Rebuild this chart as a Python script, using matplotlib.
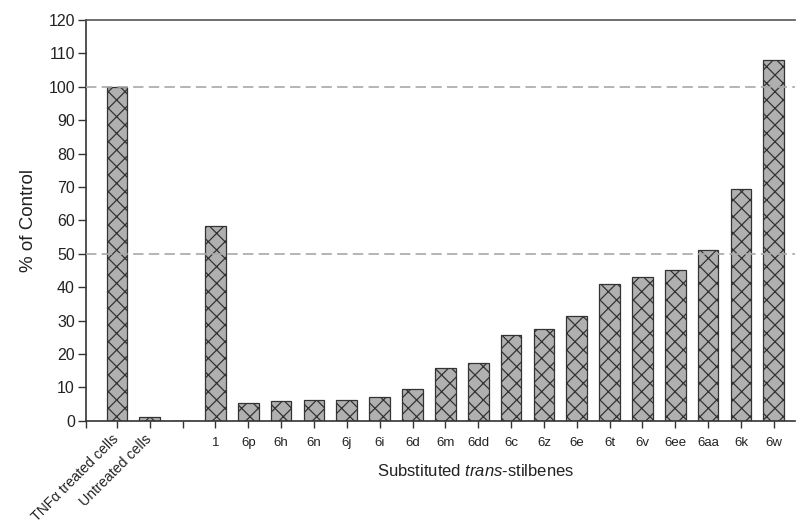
import numpy as np
import matplotlib
matplotlib.use("Agg")
import matplotlib.pyplot as plt

plt.rcParams['font.family'] = ['Liberation Sans', 'DejaVu Sans']
plt.rcParams['mathtext.fontset'] = 'custom'
plt.rcParams['mathtext.rm'] = 'Liberation Sans'
plt.rcParams['mathtext.it'] = 'Liberation Sans:italic'
plt.rcParams['hatch.linewidth'] = 0.9
plt.rcParams['hatch.color'] = '#222222'
plt.rcParams['lines.scale_dashes'] = False

# controls, a spacer slot, then the stilbene series
labels = ['TNF\u03b1 treated cells', 'Untreated cells', '',
          '1', '6p', '6h', '6n', '6j', '6i', '6d', '6m', '6dd', '6c', '6z',
          '6e', '6t', '6v', '6ee', '6aa', '6k', '6w']
values = [100, 1.0, np.nan,
          58.3, 5.4, 6.0, 6.1, 6.2, 7.0, 9.4, 15.7, 17.4, 25.7, 27.5,
          31.5, 40.8, 43.1, 45.0, 51.0, 69.5, 108.0]
ref_lines = [50, 100]

x = np.arange(len(labels))

fig = plt.figure(figsize=(8.04, 5.27), dpi=100)
ax = fig.add_axes([0.107, 0.2017, 0.882, 0.7603])

ax.bar(x, np.nan_to_num(values), width=0.63, color='#b0b0b0', edgecolor='#333333',
       linewidth=0.9, hatch='xx', zorder=2)

for v in ref_lines:
    ax.axhline(v, color='#a8a8a8', lw=1.2, dashes=(7.5, 3.8), zorder=3)

ax.set_xlim(-0.94, 20.65)
ax.set_ylim(0, 120)
ax.set_yticks(np.arange(0, 121, 10))
ax.set_xticks(x)
ax.set_xticks([-0.94], minor=True)
ax.set_xticklabels(labels, fontsize=9.5, color='#222222')
ax.tick_params(axis='y', labelsize=11.5, length=6, width=1, color='#333333',
               labelcolor='#222222', pad=2)
ax.tick_params(axis='x', which='both', length=5, width=1, color='#333333', pad=7)

for lab in ax.get_xticklabels()[:2]:
    lab.set_rotation(45)
    lab.set_ha('right')
    lab.set_va('center')
    lab.set_rotation_mode('anchor')
    lab.set_fontsize(10.2)

ax.spines['right'].set_visible(False)
for s in ['left', 'bottom']:
    ax.spines[s].set_color('#333333')
    ax.spines[s].set_linewidth(1.2)
ax.spines['top'].set_color('#555555')
ax.spines['top'].set_linewidth(1.2)

ax.set_ylabel('% of Control', fontsize=13.5, color='#222222', labelpad=8)
ax.text(0.55, -0.125, r'Substituted $\mathit{trans}$-stilbenes', transform=ax.transAxes,
        ha='center', va='center', fontsize=12, color='#222222')

fig.savefig('out.png', dpi=100)
